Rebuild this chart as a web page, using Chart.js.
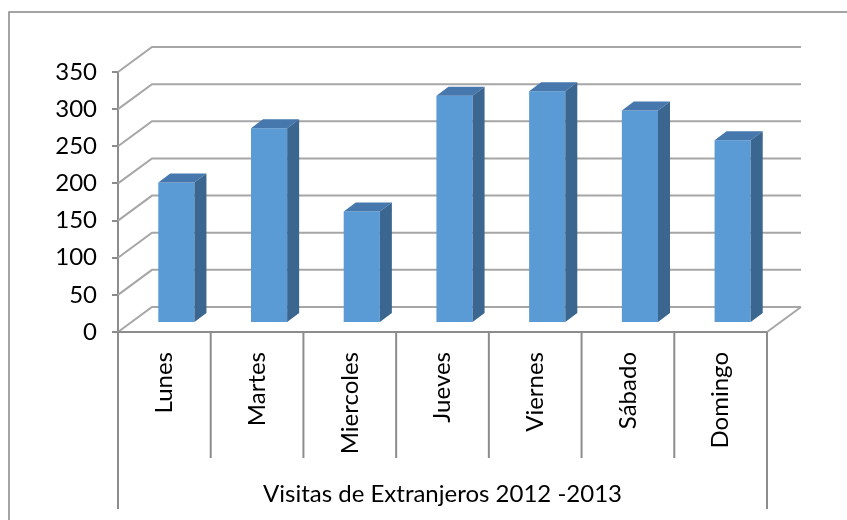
<!DOCTYPE html>
<html>
<head>
<meta charset="utf-8">
<script src="https://cdn.jsdelivr.net/npm/chart.js@4.4.1/dist/chart.umd.min.js"></script>
<style>
  html, body { margin: 0; padding: 0; background: #fff; }
  canvas { display: block; }
</style>
</head>
<body>
<canvas id="visitas-chart" width="847" height="520"></canvas>
<script>
// datos
var dias = ['Lunes', 'Martes', 'Miercoles', 'Jueves', 'Viernes', 'Sábado', 'Domingo'];
var visitas = [189, 262, 150, 306, 312, 286, 246];
var yMin = 0;
var yMax = 350;
var yPaso = 50;
var tituloEje = 'Visitas de Extranjeros 2012 -2013';

// profundidad de las paredes y de las barras (efecto 3D)
var PARED_DX = 34, PARED_DY = 25;
var BARRA_DX = 12, BARRA_DY = 9;
var FUENTE = { family: 'Lato', size: 24 };

var efecto3d = {
  id: 'efecto3d',
  beforeDatasetsDraw: function(chart) {
    var ctx = chart.ctx;
    var area = chart.chartArea;
    var y = chart.scales.y;
    var x = chart.scales.x;
    ctx.save();
    ctx.lineWidth = 2;
    ctx.strokeStyle = '#a6a6a6';
    y.ticks.forEach(function(t) {
      var py = y.getPixelForValue(t.value);
      ctx.beginPath();
      ctx.moveTo(area.left, py);
      ctx.lineTo(area.left + PARED_DX, py - PARED_DY);
      ctx.lineTo(area.right + PARED_DX, py - PARED_DY);
      ctx.stroke();
    });
    // suelo
    var y0 = y.getPixelForValue(yMin);
    ctx.beginPath();
    ctx.moveTo(area.right, y0);
    ctx.lineTo(area.right + PARED_DX, y0 - PARED_DY);
    ctx.stroke();

    // eje frontal y separadores de categorias
    ctx.strokeStyle = '#8c8c8c';
    ctx.beginPath();
    ctx.moveTo(area.left, y0);
    ctx.lineTo(area.right, y0);
    ctx.stroke();
    var n = dias.length;
    for (var i = 0; i <= n; i++) {
      var px;
      if (i === 0) px = area.left;
      else if (i === n) px = area.right;
      else px = (x.getPixelForValue(i - 1) + x.getPixelForValue(i)) / 2;
      var fin = (i === 0 || i === n) ? x.bottom : x.bottom - 51;
      ctx.beginPath();
      ctx.moveTo(px, y0);
      ctx.lineTo(px, fin);
      ctx.stroke();
    }
    ctx.restore();
  },
  beforeDatasetDraw: function(chart) {
    chart.ctx.save();
    chart.ctx.translate(BARRA_DX, -BARRA_DY);
  },
  afterDatasetDraw: function(chart, args) {
    var ctx = chart.ctx;
    args.meta.data.forEach(function(bar) {
      var p = bar.getProps(['x', 'y', 'base', 'width'], true);
      var l = p.x - p.width / 2, r = p.x + p.width / 2;
      // cara superior
      ctx.fillStyle = '#4677ad';
      ctx.beginPath();
      ctx.moveTo(l, p.y);
      ctx.lineTo(l + BARRA_DX, p.y - BARRA_DY);
      ctx.lineTo(r + BARRA_DX, p.y - BARRA_DY);
      ctx.lineTo(r, p.y);
      ctx.closePath();
      ctx.fill();
      // cara lateral
      ctx.fillStyle = '#3a6690';
      ctx.beginPath();
      ctx.moveTo(r, p.y);
      ctx.lineTo(r + BARRA_DX, p.y - BARRA_DY);
      ctx.lineTo(r + BARRA_DX, p.base - BARRA_DY);
      ctx.lineTo(r, p.base);
      ctx.closePath();
      ctx.fill();
    });
    ctx.restore();
  },
  afterDraw: function(chart) {
    var ctx = chart.ctx;
    ctx.save();
    ctx.strokeStyle = '#878787';
    ctx.lineWidth = 1.5;
    ctx.beginPath();
    ctx.moveTo(9, chart.height);
    ctx.lineTo(9, 12);
    ctx.lineTo(chart.width, 12);
    ctx.stroke();
    ctx.restore();
  }
};

var ctx = document.getElementById('visitas-chart');

var visitasChart = new Chart(ctx, {
  type: 'bar',
  data: {
    labels: dias,
    datasets: [{
      label: tituloEje,
      data: visitas,
      backgroundColor: '#5b9bd5',
      borderWidth: 0,
      categoryPercentage: 1,
      barPercentage: 0.39,
      clip: false
    }]
  },
  options: {
    responsive: false,
    animation: false,
    devicePixelRatio: 1,
    layout: { padding: { left: 10, top: 72, right: 80, bottom: 11 } },
    plugins: {
      legend: { display: false },
      tooltip: { enabled: false }
    },
    scales: {
      x: {
        offset: true,
        grid: { display: false, drawTicks: false },
        border: { display: false },
        ticks: {
          minRotation: 90,
          maxRotation: 90,
          autoSkip: false,
          padding: 20,
          color: '#000',
          font: FUENTE
        },
        title: {
          display: true,
          text: tituloEje,
          color: '#000',
          font: FUENTE,
          padding: { top: 0, bottom: 0 }
        },
        afterFit: function(scale) { scale.height = 177; }
      },
      y: {
        min: yMin,
        max: yMax,
        ticks: {
          stepSize: yPaso,
          padding: 15,
          color: '#000',
          font: FUENTE
        },
        grid: {
          drawOnChartArea: false,
          drawTicks: true,
          tickLength: 6,
          color: '#8c8c8c',
          lineWidth: 2
        },
        border: { display: true, color: '#8c8c8c', width: 2 },
        afterFit: function(scale) { scale.width = 108; }
      }
    }
  },
  plugins: [efecto3d]
});
</script>
</body>
</html>
